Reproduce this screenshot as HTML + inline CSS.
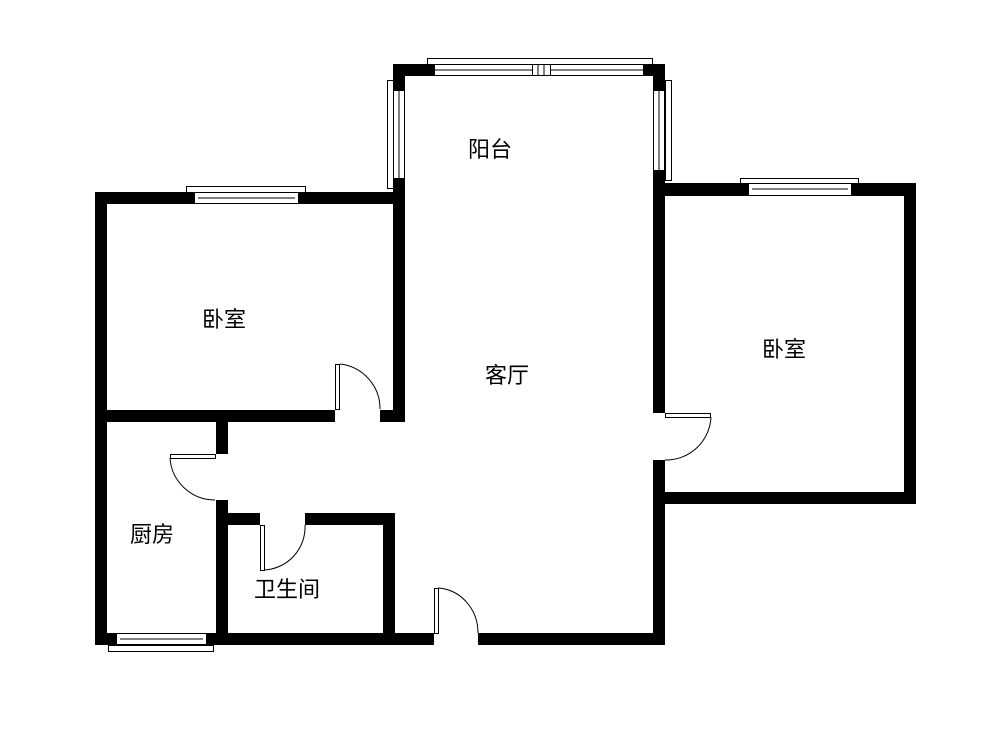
<!DOCTYPE html>
<html><head><meta charset="utf-8"><style>
html,body{margin:0;padding:0;background:#fff;width:1000px;height:730px;overflow:hidden}
text{font-family:"Liberation Sans","Noto Sans CJK SC","WenQuanYi Zen Hei",sans-serif;font-size:22px;fill:#000}
</style></head><body>
<svg width="1000" height="730" viewBox="0 0 1000 730" xmlns="http://www.w3.org/2000/svg">
<g fill="#000">
<!-- balcony -->
<rect x="393" y="64" width="41" height="12"/>
<rect x="393" y="64" width="12" height="27"/>
<rect x="393" y="178" width="12" height="243"/>
<rect x="643" y="64" width="22" height="12"/>
<rect x="653" y="64" width="12" height="27"/>
<rect x="653" y="170" width="12" height="243"/>
<rect x="653" y="460" width="12" height="185"/>
<!-- left bedroom -->
<rect x="95" y="192" width="310" height="12"/>
<rect x="95" y="192" width="12" height="453"/>
<rect x="95" y="410" width="240" height="12"/>
<rect x="380" y="410" width="25" height="12"/>
<!-- kitchen -->
<rect x="216" y="410" width="12" height="44"/>
<rect x="216" y="500" width="12" height="145"/>
<rect x="95" y="633" width="133" height="12"/>
<!-- bathroom -->
<rect x="228" y="513" width="32" height="12"/>
<rect x="305" y="513" width="90" height="12"/>
<rect x="383" y="513" width="12" height="132"/>
<rect x="228" y="633" width="206" height="12"/>
<rect x="478" y="633" width="187" height="12"/>
<!-- right bedroom -->
<rect x="653" y="183" width="263" height="13"/>
<rect x="904" y="183" width="12" height="321"/>
<rect x="665" y="492" width="251" height="12"/>
</g>
<g fill="#fff" stroke="#000" stroke-width="1">
<!-- top balcony window -->
<rect x="427.5" y="58.5" width="225" height="6"/>
<rect x="434.5" y="64.5" width="209" height="11"/>
<line x1="434" y1="70" x2="643" y2="70"/>
<rect x="532.5" y="64.5" width="18" height="11"/>
<line x1="538" y1="65" x2="538" y2="75"/><line x1="544" y1="65" x2="544" y2="75"/>
<!-- left balcony window -->
<rect x="387.5" y="80.5" width="6" height="108"/>
<rect x="393.5" y="90.5" width="11" height="88"/>
<line x1="399" y1="91" x2="399" y2="178"/>
<!-- right balcony window -->
<rect x="665.5" y="80.5" width="6" height="100"/>
<rect x="653.5" y="90.5" width="11" height="80"/>
<line x1="659" y1="91" x2="659" y2="170"/>
<!-- left bedroom window -->
<rect x="186.5" y="186.5" width="119" height="6"/>
<rect x="194.5" y="192.5" width="104" height="11"/>
<line x1="198" y1="198" x2="295" y2="198"/>
<!-- right bedroom window -->
<rect x="740.5" y="178.5" width="118" height="5"/>
<rect x="748.5" y="183.5" width="103" height="12"/>
<line x1="752" y1="189" x2="848" y2="189"/>
<!-- kitchen window -->
<rect x="108.5" y="645.5" width="105" height="6"/>
<rect x="116.5" y="633.5" width="90" height="11"/>
<line x1="120" y1="639" x2="203" y2="639"/>
</g>
<g fill="#fff" stroke="#000" stroke-width="1">
<!-- door leaves -->
<rect x="335.5" y="364.5" width="4" height="45"/>
<rect x="170.5" y="454.5" width="45" height="4"/>
<rect x="260.5" y="525.5" width="4" height="45"/>
<rect x="434.5" y="588.5" width="4" height="45"/>
<rect x="665.5" y="413.5" width="45" height="4"/>
</g>
<g fill="none" stroke="#000" stroke-width="1">
<path d="M340 364 A45 45 0 0 1 380 409"/>
<path d="M170 458 A45 45 0 0 0 215 500"/>
<path d="M264 570 A43 43 0 0 0 305 525"/>
<path d="M438 588 A42 45 0 0 1 478 633"/>
<path d="M711 417 A45 45 0 0 1 665 460"/>
</g>
<text x="468" y="157">阳台</text>
<text x="202" y="327">卧室</text>
<text x="485" y="383">客厅</text>
<text x="762" y="357">卧室</text>
<text x="130" y="542">厨房</text>
<text x="254" y="597">卫生间</text>
</svg>
</body></html>
